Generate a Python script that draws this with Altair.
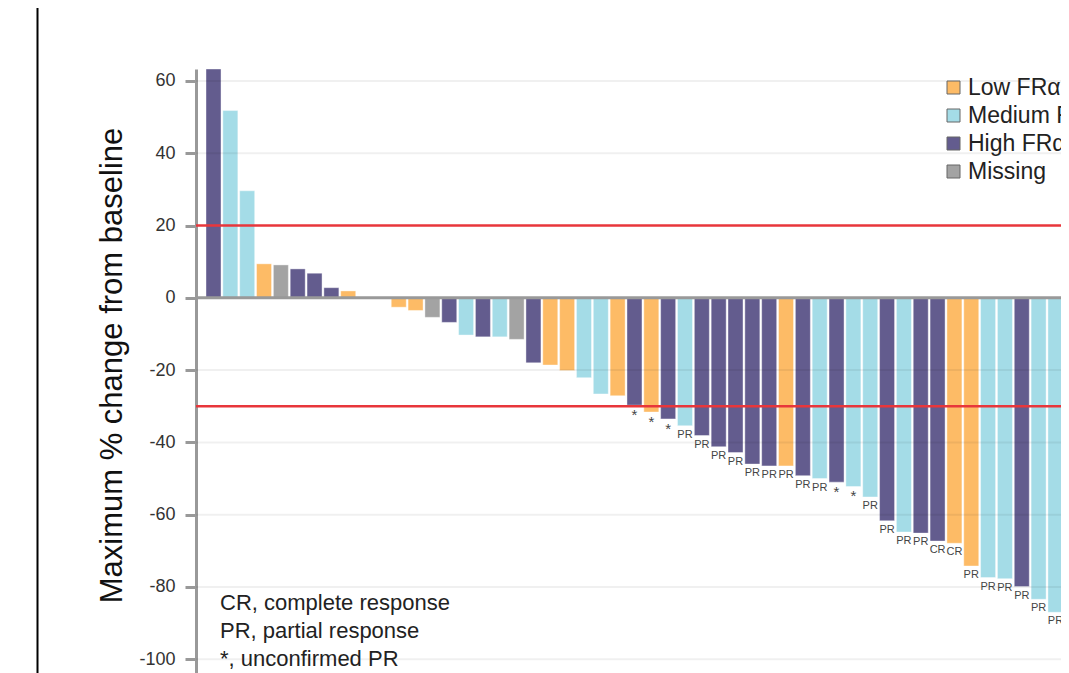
import altair as alt
import pandas as pd

# ---- data -------------------------------------------------------------
change = [63.3, 51.8, 29.6, 9.4, 9.1, 8.0, 6.8, 2.8, 1.9, 0.0, 0.0,
          -2.6, -3.5, -5.4, -6.8, -10.3, -10.8, -10.8, -11.5, -18.0, -18.6,
          -20.1, -22.1, -26.6, -27.1, -29.7, -31.6, -33.5, -35.4, -38.1, -41.2,
          -42.8, -46.0, -46.5, -46.5, -49.2, -50.0, -51.0, -52.2, -55.1, -61.7,
          -64.8, -65.1, -67.3, -67.9, -74.2, -77.4, -77.7, -79.9, -83.4, -87.0,
          -100.0]
fra_code = ["H", "M", "M", "L", "X", "H", "H", "H", "L", "M", "M",
            "L", "L", "X", "H", "M", "H", "M", "X", "H", "L",
            "L", "M", "M", "L", "H", "L", "H", "M", "H", "H",
            "H", "H", "H", "L", "H", "M", "H", "M", "M", "H",
            "M", "H", "H", "L", "L", "M", "M", "H", "M", "M",
            "L"]
response = [""] * 25 + ["*", "*", "*", "PR", "PR", "PR", "PR", "PR", "PR", "PR",
                        "PR", "PR", "*", "*", "PR", "PR", "PR", "PR", "CR", "CR",
                        "PR", "PR", "PR", "PR", "PR", "PR", "CR"]
group_names = {"L": "Low FRα", "M": "Medium FRα", "H": "High FRα", "X": "Missing"}
legend_order = ["Low FRα", "Medium FRα", "High FRα", "Missing"]
legend_colors = ["#FDBB66", "#A4DCE7", "#635C8E", "#A3A3A3"]
threshold_lines = [20, -30]
y_ticks = [60, 40, 20, 0, -20, -40, -60, -80, -100]
grid_values = [60, 40, -20, -40, -60, -80, -100]
footnote = ["CR, complete response", "PR, partial response", "*, unconfirmed PR"]
y_title = "Maximum % change from baseline"

FONT = "Liberation Sans"

df = pd.DataFrame({
    "idx": list(range(len(change))),
    "change": change,
    "fra": [group_names[c] for c in fra_code],
    "resp": response,
})

xs = alt.Scale(domain=[-1.04, 50.33], nice=False, zero=False, padding=0)
ys = alt.Scale(domain=[-103.8, 63.3], nice=False, zero=False, padding=0)

y_axis = alt.Axis(values=y_ticks, title=y_title, grid=False,
                  labelExpr="'' + datum.value",
                  domainColor="#999999", domainWidth=3,
                  tickColor="#999999", tickWidth=3, tickSize=11,
                  labelFont=FONT, labelFontSize=18, labelColor="#333333",
                  labelPadding=10,
                  titleFont=FONT, titleFontSize=31, titleFontWeight="normal",
                  titleColor="#111111", titleX=-75, titleY=296,
                  titleBaseline="alphabetic", titleAngle=270)

base = alt.Chart(df)

bars = base.mark_bar(size=15, stroke="white", strokeWidth=0.4).encode(
    x=alt.X("idx:Q", scale=xs, axis=None),
    y=alt.Y("change:Q", scale=ys, axis=y_axis),
    y2=alt.datum(0),
    color=alt.Color("fra:N",
                    scale=alt.Scale(domain=legend_order, range=legend_colors),
                    legend=alt.Legend(title=None, orient="none", legendX=746, legendY=7,
                                      symbolType="square", symbolSize=169,
                                      symbolStrokeColor="#666666", symbolStrokeWidth=1,
                                      symbolOpacity=1,
                                      labelFont=FONT, labelFontSize=23, labelColor="#222222",
                                      labelOffset=3, rowPadding=4, padding=0)),
)

labels = base.mark_text(font=FONT, color="#444444", baseline="top",
                        dy=3).encode(
    x=alt.X("idx:Q", scale=xs, axis=None),
    y=alt.Y("change:Q", scale=ys, axis=y_axis),
    text="resp:N",
    size=alt.condition("datum.resp == '*'", alt.value(15), alt.value(11)),
)

grid = alt.Chart(pd.DataFrame({"v": grid_values})).mark_rule(
    color="#000000", opacity=0.06, strokeWidth=2).encode(
    y=alt.Y("v:Q", scale=ys, axis=y_axis))

zero_line = alt.Chart(pd.DataFrame({"v": [0]})).mark_rule(
    color="#999999", strokeWidth=3).encode(y=alt.Y("v:Q", scale=ys, axis=y_axis))

red = alt.Chart(pd.DataFrame({"v": threshold_lines})).mark_rule(
    color="#E8363B", strokeWidth=2.5).encode(y=alt.Y("v:Q", scale=ys, axis=y_axis))

notes = alt.Chart(pd.DataFrame({"a": [0]})).mark_text(
    text=footnote, align="left", baseline="top", lineHeight=28,
    font=FONT, fontSize=22, color="#222222").encode(
    x=alt.value(24), y=alt.value(524))

border = alt.Chart(pd.DataFrame({"a": [0]})).mark_rule(
    color="#000000", strokeWidth=2).encode(
    x=alt.value(-158.5), y=alt.value(-61), y2=alt.value(604))

chart = alt.layer(bars, grid, zero_line, red, labels, notes, border).properties(
    width=865, height=604,
    padding={"left": 188, "top": 61, "right": 0, "bottom": 0},
    autosize=alt.AutoSizeParams(type="none"),
    background="white",
).configure_view(stroke=None, strokeWidth=0).configure_axis(grid=False)

chart.save("out.html", embed_options={"renderer": "svg", "actions": False})
